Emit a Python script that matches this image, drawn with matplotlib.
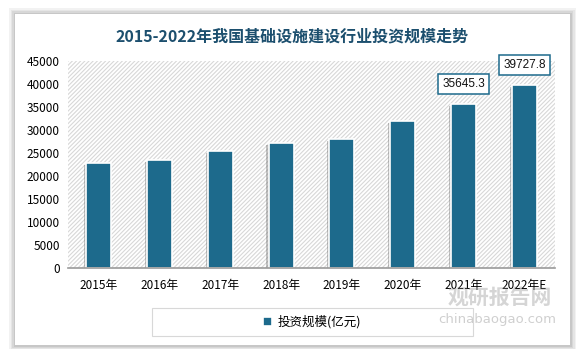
import matplotlib.pyplot as plt
import matplotlib.patches as mpatches
import matplotlib.patheffects as pe
import numpy as np

plt.rcParams['font.family'] = ['Noto Sans CJK SC', 'DejaVu Sans']
plt.rcParams['hatch.color'] = '#d8d8d8'
plt.rcParams['hatch.linewidth'] = 0.8

years = ['2015年', '2016年', '2017年', '2018年', '2019年', '2020年', '2021年', '2022年E']
invest = [22900, 23400, 25400, 27200, 28000, 31900, 35645.3, 39727.8]
labeled = [6, 7]   # only the last two bars carry a value box

bar_col = '#1d6a8c'
title_col = '#1c4f6e'

fig = plt.figure(figsize=(5.83, 3.49), dpi=100)
fig.patch.set_facecolor('white')

# card with a soft shadow
W, H = 583., 349.
for k, a in enumerate([0.05, 0.05, 0.06, 0.07]):
    d = 6 - k * 1.5
    fig.patches.append(mpatches.Rectangle(((15 - d) / W, (4 - d) / H), (555 + 2 * d) / W, (331 + 2 * d) / H,
                                          transform=fig.transFigure, facecolor='black', alpha=a,
                                          edgecolor='none', zorder=-3))
fig.patches.append(mpatches.Rectangle((15 / W, 4 / H), 555 / W, 331 / H, transform=fig.transFigure,
                                      facecolor='white', edgecolor='none', zorder=-2))

ax = fig.add_axes([68 / W, 1 - 268 / H, 487 / W, 207 / H])
ax.patch.set_facecolor('white')
ax.patch.set_hatch('////////')
ax.patch.set_edgecolor('#d8d8d8')
ax.patch.set_linewidth(0)

x = np.arange(len(years))
bars = ax.bar(x, invest, width=0.41, color=bar_col, edgecolor='white', linewidth=1.2, zorder=3,
              label='投资规模(亿元)')

for i in labeled:
    ax.annotate(f'{invest[i]}', (x[i], invest[i]), xytext=(0, 10), textcoords='offset points',
                ha='center', va='bottom', fontsize=8.5, color='#111111', family='Liberation Sans',
                bbox=dict(boxstyle='square,pad=0.35', facecolor='white', edgecolor=bar_col, linewidth=1.1),
                zorder=5)

ax.set_xlim(-0.5, len(years) - 0.5)
ax.set_ylim(0, 45000)
ax.set_yticks(np.arange(0, 45001, 5000))
ax.set_xticks(x)
ax.set_xticklabels(years, fontsize=8.5)
ax.tick_params(axis='y', labelsize=8.5, length=0, pad=6)
ax.tick_params(axis='x', length=0, pad=8)
for s in ['top', 'right', 'left']:
    ax.spines[s].set_visible(False)
ax.spines['bottom'].set_color('#9a9a9a')
ax.spines['bottom'].set_linewidth(1.2)
ax.spines['bottom'].set_zorder(4)

fig.text(292 / W, 1 - 36 / H, '2015-2022年我国基础设施建设行业投资规模走势', ha='center', va='center',
         fontsize=11.5, fontweight='bold', color=title_col)

# legend frame drawn separately so the entry sits in the middle
fig.patches.append(mpatches.Rectangle((152 / W, 1 - 336 / H), 321 / W, 28 / H, transform=fig.transFigure,
                                      facecolor='white', edgecolor='#d8d8d8', linewidth=0.8, zorder=1))
leg = fig.legend(loc='center', bbox_to_anchor=(312 / W, 1 - 322 / H), frameon=False, fontsize=9,
                 handlelength=0.7, handleheight=0.7, handletextpad=0.5)
leg.set_zorder(2)

# bar shadows, added after the legend so its square stays plain
for b in bars:
    b.set_path_effects([pe.SimplePatchShadow(offset=(-1.5, -1.5), shadow_rgbFace='#555555', alpha=0.35),
                        pe.Normal()])

# watermark
fig.text(500 / W, 1 - 297 / H, '观研报告网', ha='center', va='center', fontsize=15, fontweight='bold',
         color='#888888', alpha=0.35, zorder=10)
fig.text(497 / W, 1 - 319 / H, 'chinabaogao.com', ha='center', va='center', fontsize=9.5,
         color='#888888', alpha=0.4, zorder=10, family='DejaVu Sans')

fig.savefig('out.png', dpi=100)
